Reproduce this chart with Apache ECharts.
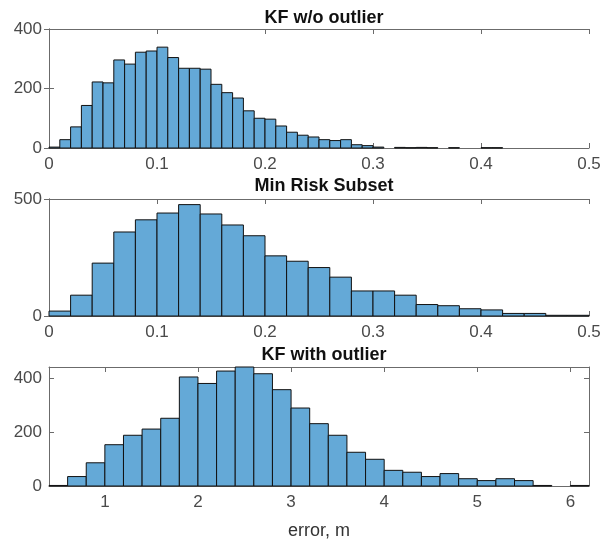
<!DOCTYPE html>
<html>
<head>
<meta charset="utf-8">
<script src="https://cdn.jsdelivr.net/npm/echarts@6/dist/echarts.min.js"></script>
<style>
  html, body { margin: 0; padding: 0; background: #fff; }
  #main { width: 614px; height: 541px; }
</style>
</head>
<body>
<div id="main"></div>
<script>
// histogram counts
const titles = ['KF w/o outlier', 'Min Risk Subset', 'KF with outlier']

const kfStart = 0, kfWidth = 0.01
const kfCounts = [3, 28, 71, 143, 222, 219, 296, 282, 322, 326, 339, 304, 268, 268, 265, 214,
  186, 168, 125, 100, 97, 74, 53, 43, 37, 28, 25, 28, 11, 8, 3, 0, 2, 1, 2, 1, 0, 1, 0, 0, 1, 1]

const mrStart = 0, mrWidth = 0.02
const mrCounts = [21, 89, 226, 359, 411, 440, 476, 436, 389, 343, 257, 234, 207, 166, 107, 107,
  89, 49, 44, 31, 26, 11, 11, 3, 3]

const outStart = 0.4, outWidth = 0.2
const outCounts = [2, 35, 86, 153, 188, 211, 251, 404, 380, 426, 441, 416, 357, 289, 231, 188,
  125, 99, 58, 51, 35, 46, 27, 20, 27, 20, 2, 0, 2]

const xTicks1 = [0, 0.1, 0.2, 0.3, 0.4, 0.5]
const xTicks3 = [1, 2, 3, 4, 5, 6]

const font = 'Liberation Sans, Arial, sans-serif'
const axisColor = '#6b6b6b'
const labelColor = '#4a4a4a'
const barColor = '#64a9d7'

const grids = [
  { left: 49, right: 25, top: 29, height: 119 },
  { left: 49, right: 25, top: 199, height: 117 },
  { left: 49, right: 25, top: 367, height: 119 }
]

function toBins(start, width, counts) {
  return counts.map((c, i) => [start + i * width, start + (i + 1) * width, c])
}

function renderItem(params, api) {
  const h = api.value(2)
  if (!h) return null
  const p0 = api.coord([api.value(0), h])
  const p1 = api.coord([api.value(1), 0])
  return {
    type: 'rect',
    shape: { x: p0[0], y: p0[1], width: p1[0] - p0[0], height: p1[1] - p0[1] },
    style: { fill: barColor, stroke: '#111', lineWidth: 1 }
  }
}

function xAxes(idx, min, max, ticks, name) {
  const base = {
    gridIndex: idx, type: 'value', min: min, max: max,
    axisLine: { show: true, onZero: false, lineStyle: { color: axisColor, width: 1 } },
    axisTick: { show: true, inside: true, length: 5, customValues: ticks, lineStyle: { color: axisColor } },
    splitLine: { show: false }
  }
  const bottom = Object.assign({}, base, {
    position: 'bottom',
    axisLabel: {
      margin: 8, color: labelColor, fontSize: 17, fontFamily: font,
      customValues: ticks,
      formatter: v => String(+v.toFixed(2))
    }
  })
  if (name) {
    bottom.name = name
    bottom.nameLocation = 'middle'
    bottom.nameGap = 36
    bottom.nameTextStyle = { color: '#333', fontSize: 18, fontFamily: font }
  }
  const top = Object.assign({}, base, { position: 'top', axisLabel: { show: false } })
  return [bottom, top]
}

function yAxes(idx, max, ticks) {
  const base = {
    gridIndex: idx, type: 'value', min: 0, max: max,
    axisLine: { show: true, lineStyle: { color: axisColor, width: 1 } },
    axisTick: { show: true, inside: true, length: 5, customValues: ticks, lineStyle: { color: axisColor } },
    splitLine: { show: false }
  }
  const left = Object.assign({}, base, {
    position: 'left',
    axisLabel: { margin: 7, color: labelColor, fontSize: 17, fontFamily: font, customValues: ticks }
  })
  const right = Object.assign({}, base, { position: 'right', axisLabel: { show: false } })
  return [left, right]
}

const chart = echarts.init(document.getElementById('main'), null, { renderer: 'canvas' })

const option = {
  backgroundColor: '#fff',
  animation: false,
  title: titles.map((t, i) => ({
    text: t,
    left: 319,
    top: [4, 172, 341][i],
    textAlign: 'center',
    textStyle: { fontSize: 18, fontWeight: 'bold', color: '#111', fontFamily: font }
  })),
  grid: grids,
  xAxis: [
    ...xAxes(0, 0, 0.5, xTicks1),
    ...xAxes(1, 0, 0.5, xTicks1),
    ...xAxes(2, 0.4, 6.2, xTicks3, 'error, m')
  ],
  yAxis: [
    ...yAxes(0, 400, [0, 200, 400]),
    ...yAxes(1, 500, [0, 500]),
    ...yAxes(2, 441, [0, 200, 400])
  ],
  series: [
    { type: 'custom', xAxisIndex: 0, yAxisIndex: 0, renderItem: renderItem,
      encode: { x: [0, 1], y: 2 }, data: toBins(kfStart, kfWidth, kfCounts) },
    { type: 'custom', xAxisIndex: 2, yAxisIndex: 2, renderItem: renderItem,
      encode: { x: [0, 1], y: 2 }, data: toBins(mrStart, mrWidth, mrCounts) },
    { type: 'custom', xAxisIndex: 4, yAxisIndex: 4, renderItem: renderItem,
      encode: { x: [0, 1], y: 2 }, data: toBins(outStart, outWidth, outCounts) }
  ]
}

chart.setOption(option)
</script>
</body>
</html>
